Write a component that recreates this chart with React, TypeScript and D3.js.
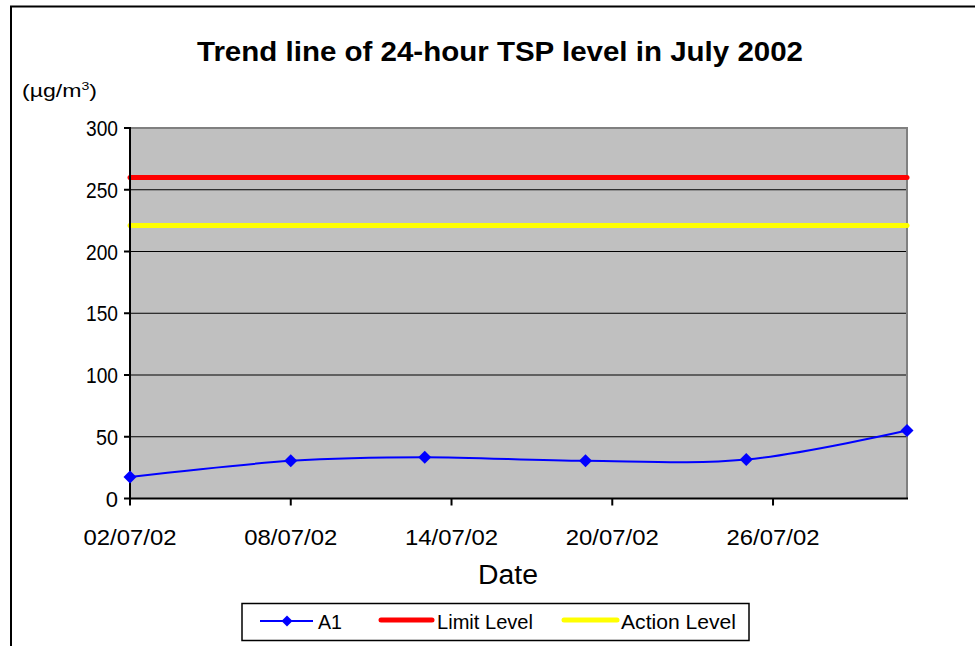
import React from "react";
import * as d3 from "d3";

const dates = ["2002-07-02", "2002-07-08", "2002-07-13", "2002-07-19", "2002-07-25", "2002-07-31"];
const a1Values = [17.5, 30.5, 33.5, 30.5, 31.5, 55];
const limitLevel = 260;
const actionLevel = 221;
const yTicks = [0, 50, 100, 150, 200, 250, 300];
const xTickDates = ["2002-07-02", "2002-07-08", "2002-07-14", "2002-07-20", "2002-07-26"];
const legendLabels = ["A1", "Limit Level", "Action Level"];

const FONT = "'Liberation Sans', Arial, sans-serif";

export default function App() {
  const parse = d3.timeParse("%Y-%m-%d");
  const fmt = d3.timeFormat("%d/%m/%y");
  const x = d3
    .scaleTime()
    .domain([parse("2002-07-02")!, parse("2002-07-31")!])
    .range([130, 907]);
  const y = d3.scaleLinear().domain([0, 300]).range([498.5, 128]);

  const pts = dates.map((d, i) => [x(parse(d)!), y(a1Values[i])] as [number, number]);
  const line = d3.line().curve(d3.curveCardinal.tension(0))(pts) || "";

  const left = x.range()[0];
  const right = x.range()[1];
  const top = y(300);
  const bottom = y(0);

  const diamond = (cx: number, cy: number, r: number) =>
    `M${cx},${cy - r}L${cx + r},${cy}L${cx},${cy + r}L${cx - r},${cy}Z`;

  return (
    <svg
      width={975}
      height={646}
      style={{ position: "absolute", left: 0, top: 0, background: "#fff" }}
      fontFamily={FONT}
    >
      <rect x={11} y={6.5} width={1100} height={800} fill="#fff" stroke="#000" strokeWidth={2} />
      <text x={500} y={61} textAnchor="middle" fontSize={27} fontWeight="bold" textLength={606} lengthAdjust="spacingAndGlyphs">
        Trend line of 24-hour TSP level in July 2002
      </text>
      <text x={22} y={97} fontSize={18} textLength={75} lengthAdjust="spacingAndGlyphs">
        (µg/m<tspan dy={-7} fontSize={11}>3</tspan>
        <tspan dy={7}>)</tspan>
      </text>

      {/* plot area */}
      <rect x={left} y={top} width={right - left} height={bottom - top} fill="#C0C0C0" />
      {yTicks
        .filter((t) => t > 0 && t < 300)
        .map((t) => (
          <line key={t} x1={left} x2={right} y1={y(t)} y2={y(t)} stroke="#000" strokeWidth={1} />
        ))}
      <line x1={left} x2={right} y1={top} y2={top} stroke="#808080" strokeWidth={2} />
      <line x1={right} x2={right} y1={top - 1} y2={bottom} stroke="#808080" strokeWidth={2} />

      {/* level lines */}
      <line x1={left} x2={right} y1={y(limitLevel)} y2={y(limitLevel)} stroke="#FF0000" strokeWidth={5} strokeLinecap="round" />
      <line x1={left} x2={right} y1={y(actionLevel)} y2={y(actionLevel)} stroke="#FFFF00" strokeWidth={5} strokeLinecap="round" />

      {/* axes */}
      <line x1={left} x2={left} y1={top - 1} y2={bottom + 1} stroke="#000" strokeWidth={2} />
      <line x1={left - 1} x2={right + 1} y1={bottom} y2={bottom} stroke="#000" strokeWidth={2} />
      {yTicks.map((t) => (
        <g key={t}>
          <line x1={left - 6} x2={left} y1={y(t)} y2={y(t)} stroke="#000" strokeWidth={2} />
          <text x={118} y={y(t) + 8} textAnchor="end" fontSize={22} textLength={t === 0 ? undefined : t >= 100 ? 32 : 22} lengthAdjust="spacingAndGlyphs">
            {t}
          </text>
        </g>
      ))}
      {xTickDates.map((d) => {
        const xx = x(parse(d)!);
        return (
          <g key={d}>
            <line x1={xx} x2={xx} y1={bottom} y2={bottom + 7} stroke="#000" strokeWidth={2} />
            <text x={xx} y={545} textAnchor="middle" fontSize={22} textLength={93} lengthAdjust="spacingAndGlyphs">
              {fmt(parse(d)!)}
            </text>
          </g>
        );
      })}
      <text x={508} y={584} textAnchor="middle" fontSize={27} textLength={60} lengthAdjust="spacingAndGlyphs">
        Date
      </text>

      {/* series */}
      <path d={line} fill="none" stroke="#0000FF" strokeWidth={2} />
      {pts.map((p, i) => (
        <path key={i} d={diamond(p[0], p[1], 6.5)} fill="#0000FF" />
      ))}

      {/* legend */}
      <rect x={242} y={603.5} width={507} height={37} fill="#fff" stroke="#000" strokeWidth={1.5} />
      <line x1={260} x2={313} y1={621} y2={621} stroke="#0000FF" strokeWidth={2} />
      <path d={diamond(287, 621, 5.5)} fill="#0000FF" />
      <text x={318} y={629} fontSize={21} textLength={24} lengthAdjust="spacingAndGlyphs">{legendLabels[0]}</text>
      <line x1={381} x2={432} y1={620} y2={620} stroke="#FF0000" strokeWidth={5} strokeLinecap="round" />
      <text x={437} y={629} fontSize={21} textLength={96} lengthAdjust="spacingAndGlyphs">{legendLabels[1]}</text>
      <line x1={564} x2={617} y1={620} y2={620} stroke="#FFFF00" strokeWidth={5} strokeLinecap="round" />
      <text x={621} y={629} fontSize={21} textLength={115} lengthAdjust="spacingAndGlyphs">{legendLabels[2]}</text>
    </svg>
  );
}
